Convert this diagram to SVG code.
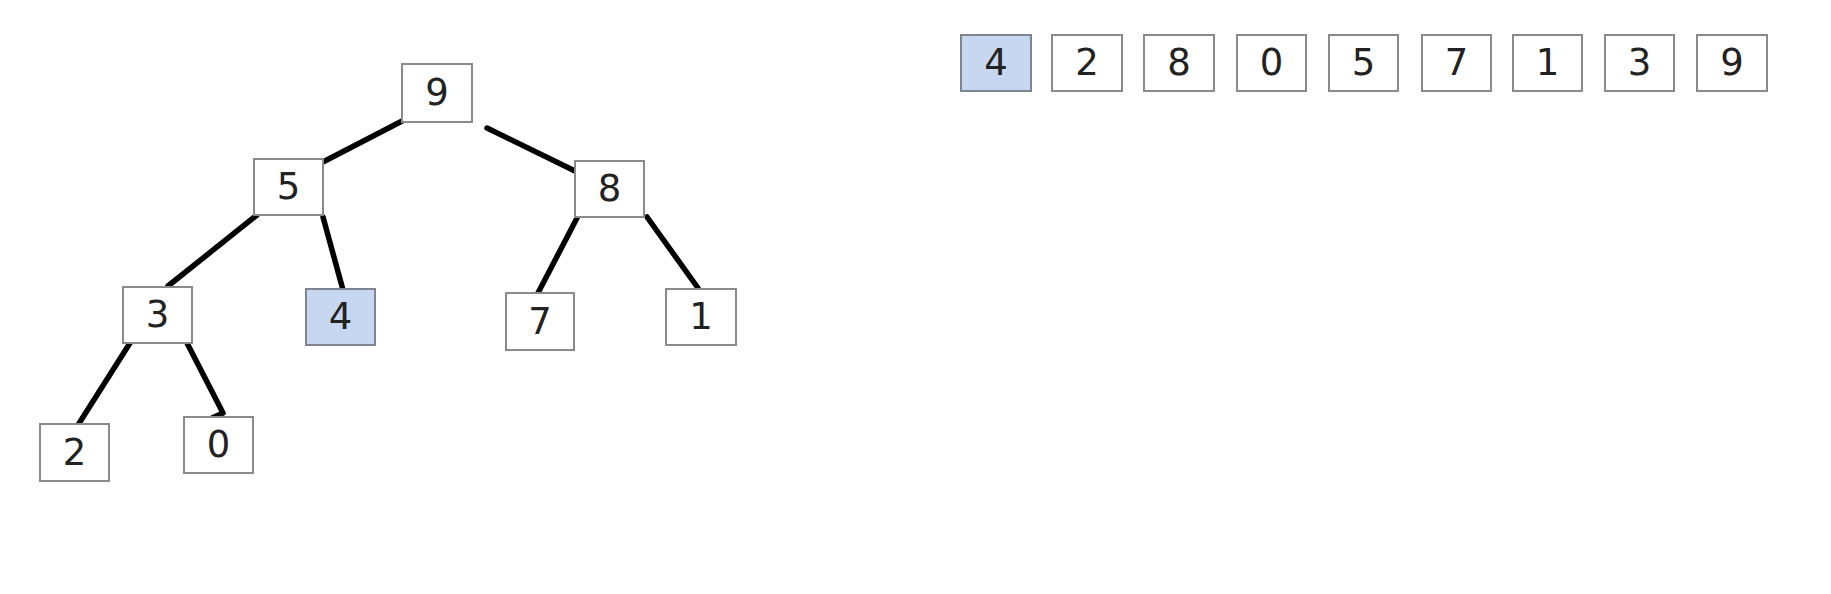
<svg xmlns="http://www.w3.org/2000/svg" width="1831" height="594" viewBox="0 0 1831 594">
<style>
.box{fill:#ffffff;stroke:#8a8a8a;stroke-width:2}
.hl{fill:#c6d7ef;stroke:#7f8590;stroke-width:2}
.t{font-family:"DejaVu Sans",Verdana,sans-serif;font-size:37px;fill:#222;text-anchor:middle;dominant-baseline:central}
.e{stroke:#000;stroke-width:5.5;stroke-linecap:round;stroke-linejoin:round;fill:none}
</style>
<rect width="1831" height="594" fill="#ffffff"/>
<g id="connectors">
<line class="e" x1="406" y1="119" x2="321" y2="163"/>
<line class="e" x1="487" y1="128" x2="575" y2="171"/>
<line class="e" x1="257" y1="215" x2="168" y2="286"/>
<line class="e" x1="323" y1="217" x2="343" y2="290"/>
<line class="e" x1="577" y1="218" x2="538" y2="293"/>
<line class="e" x1="647" y1="217" x2="698" y2="288"/>
<line class="e" x1="130" y1="343" x2="78" y2="425"/>
<polyline class="e" points="187,343 223,413 212,418"/>
</g>
<g id="n9"><rect class="box" x="402" y="64" width="70" height="58"/><text class="t" x="437" y="92">9</text></g>
<g id="n5"><rect class="box" x="254" y="159" width="69" height="56"/><text class="t" x="288.5" y="186">5</text></g>
<g id="n8"><rect class="box" x="575" y="161" width="69" height="56"/><text class="t" x="609.5" y="188">8</text></g>
<g id="n3"><rect class="box" x="123" y="287" width="69" height="56"/><text class="t" x="157.5" y="314">3</text></g>
<g id="n4"><rect class="hl" x="306" y="289" width="69" height="56"/><text class="t" x="340.5" y="316">4</text></g>
<g id="n7"><rect class="box" x="506" y="293" width="68" height="57"/><text class="t" x="540" y="321">7</text></g>
<g id="n1"><rect class="box" x="666" y="289" width="70" height="56"/><text class="t" x="701" y="316">1</text></g>
<g id="n2"><rect class="box" x="40" y="424" width="69" height="57"/><text class="t" x="74.5" y="452">2</text></g>
<g id="n0"><rect class="box" x="184" y="417" width="69" height="56"/><text class="t" x="218.5" y="444">0</text></g>
<g id="array">
<g id="a0"><rect class="hl" x="961" y="35" width="70" height="56"/><text class="t" x="996" y="62">4</text></g>
<g id="a1"><rect class="box" x="1052" y="35" width="70" height="56"/><text class="t" x="1087" y="62">2</text></g>
<g id="a2"><rect class="box" x="1144" y="35" width="70" height="56"/><text class="t" x="1179" y="62">8</text></g>
<g id="a3"><rect class="box" x="1237" y="35" width="69" height="56"/><text class="t" x="1271.5" y="62">0</text></g>
<g id="a4"><rect class="box" x="1329" y="35" width="69" height="56"/><text class="t" x="1363.5" y="62">5</text></g>
<g id="a5"><rect class="box" x="1422" y="35" width="69" height="56"/><text class="t" x="1456.5" y="62">7</text></g>
<g id="a6"><rect class="box" x="1513" y="35" width="69" height="56"/><text class="t" x="1547.5" y="62">1</text></g>
<g id="a7"><rect class="box" x="1605" y="35" width="69" height="56"/><text class="t" x="1639.5" y="62">3</text></g>
<g id="a8"><rect class="box" x="1697" y="35" width="70" height="56"/><text class="t" x="1732" y="62">9</text></g>
</g>
</svg>
